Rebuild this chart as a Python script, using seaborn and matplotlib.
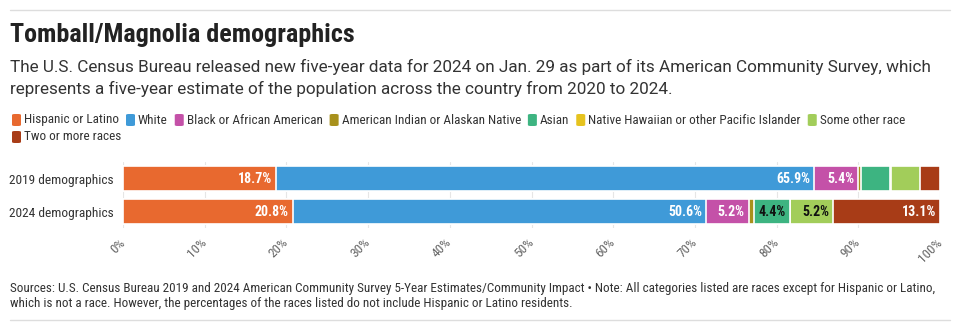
import matplotlib
matplotlib.use("Agg")
import matplotlib.pyplot as plt
import seaborn as sns
import pandas as pd
from matplotlib import font_manager as fm
from matplotlib.patches import FancyBboxPatch
from matplotlib.lines import Line2D
from matplotlib.transforms import offset_copy

# ---- data -------------------------------------------------------------
years = ["2019 demographics", "2024 demographics"]
groups = [
    "Hispanic or Latino",
    "White",
    "Black or African American",
    "American Indian or Alaskan Native",
    "Asian",
    "Native Hawaiian or other Pacific Islander",
    "Some other race",
    "Two or more races",
]
share_2019 = [18.7, 65.9, 5.4, 0.3, 3.6, 0.1, 3.5, 2.5]
share_2024 = [20.8, 50.6, 5.2, 0.6, 4.4, 0.1, 5.2, 13.1]
tick_values = [0, 10, 20, 30, 40, 50, 60, 70, 80, 90, 100]

title = "Tomball/Magnolia demographics"
subtitle_lines = [
    "The U.S. Census Bureau released new five-year data for 2024 on Jan. 29 as part of its "
    "American Community Survey, which",
    "represents a five-year estimate of the population across the country from 2020 to 2024.",
]
footer = ("Sources: U.S. Census Bureau 2019 and 2024 American Community Survey 5-Year "
          "Estimates/Community Impact \u2022 Note: All categories listed are races except for "
          "Hispanic or Latino,\nwhich is not a race. However, the percentages of the races "
          "listed do not include Hispanic or Latino residents.")

colors = ["#E8692F", "#3F9AD8", "#C451A8", "#A8911C",
          "#3DB481", "#E6C31E", "#A2CD5A", "#A83C17"]
label_colors = ["white", "white", "white", "white",
                "#111111", "white", "#111111", "white"]

# ---- fonts ------------------------------------------------------------
available = {f.name for f in fm.fontManager.ttflist}


def pick(*names):
    for n in names:
        if n in available:
            return n
    return "DejaVu Sans"


narrow = pick("Roboto Condensed", "Liberation Sans Narrow", "Roboto")
regular = pick("Roboto", "Lato", "DejaVu Sans")

sns.set_theme(style="white")
plt.rcParams["font.family"] = [narrow, "DejaVu Sans"]

# ---- long table with running totals -----------------------------------
rows = []
for year, shares in zip(years, [share_2019, share_2024]):
    total = 0.0
    for g, v in zip(groups, shares):
        total += v
        rows.append({"year": year, "group": g, "value": v, "cum": total})
df = pd.DataFrame(rows)

W, H = 960, 330
fig = plt.figure(figsize=(W / 100, H / 100), dpi=100)


def fx(px):
    return px / W


def fy(py):
    return 1 - py / H


ax = fig.add_axes([fx(123), fy(228), fx(940) - fx(123), (228 - 162) / H])

# stacked bars: draw running totals from the longest down so each
# segment shows only its own share
for i in reversed(range(len(groups))):
    sub = df[df["group"] == groups[i]]
    sns.barplot(data=sub, x="cum", y="year", order=years, orient="h",
                color=colors[i], saturation=1, width=0.76, edgecolor="white",
                linewidth=1.2, errorbar=None, ax=ax, zorder=2)

# value labels at the right end of each wide segment
lab_tr = offset_copy(ax.transData, fig=fig, x=-4, y=0, units="dots")
for _, r in df.iterrows():
    if r["value"] >= 4:
        gi = groups.index(r["group"])
        ax.text(r["cum"], years.index(r["year"]), f"{r['value']:.1f}%",
                transform=lab_tr, ha="right", va="center",
                fontsize=10, fontweight="bold", color=label_colors[gi],
                zorder=5)

ax.set_xlim(0, 100)
ax.set_ylim(1.5, -0.5)
ax.set_xticks(tick_values)
ax.set_xticklabels([f"{t}%" for t in tick_values])
ax.set_xlabel("")
ax.set_ylabel("")
for s in ax.spines.values():
    s.set_visible(False)
ax.grid(axis="x", color="#e6e6e6", linewidth=0.8, zorder=0)
ax.set_axisbelow(True)
ax.tick_params(axis="y", length=0, pad=7, labelsize=9.6, labelcolor="#333333")
ax.tick_params(axis="x", length=0, pad=9, labelsize=9.5, labelcolor="#666666")
for lab in ax.get_xticklabels():
    lab.set_rotation(45)
    lab.set_ha("right")
    lab.set_va("center")
    lab.set_rotation_mode("anchor")

# ---- header / footer --------------------------------------------------
fig.add_artist(Line2D([fx(10), fx(950)], [fy(10), fy(10)], color="#dddddd", lw=1))
fig.add_artist(Line2D([fx(10), fx(950)], [fy(320), fy(320)], color="#dddddd", lw=1))

fig.text(fx(10), fy(42), title, fontsize=18.8, fontweight="bold",
         color="#222222", va="baseline", ha="left")
for k, line in enumerate(subtitle_lines):
    fig.text(fx(10), fy(72 + 22 * k), line, fontsize=12.3,
             family=[regular, "DejaVu Sans"], color="#333333",
             va="baseline", ha="left")
fig.text(fx(10), fy(282), footer, fontsize=9.45, color="#333333",
         va="top", ha="left", linespacing=1.25)

# ---- legend laid out as a wrapping row --------------------------------
fig.canvas.draw()
renderer = fig.canvas.get_renderer()
x0, x_max = 12, 950
x, yc = x0, 120
for g, c in zip(groups, colors):
    t = fig.text(0, 0, g, fontsize=9.5, color="#333333", va="center", ha="left")
    w = t.get_window_extent(renderer).width
    if x + 12 + w > x_max:
        x, yc = x0, yc + 17
    fig.add_artist(FancyBboxPatch((fx(x), fy(yc + 6)), fx(9), 12 / H,
                                  boxstyle="round,pad=0,rounding_size=0.003",
                                  transform=fig.transFigure, facecolor=c,
                                  edgecolor="none"))
    t.set_position((fx(x + 12), fy(yc)))
    x += 12 + w + 7

fig.savefig("out.png", dpi=100)
